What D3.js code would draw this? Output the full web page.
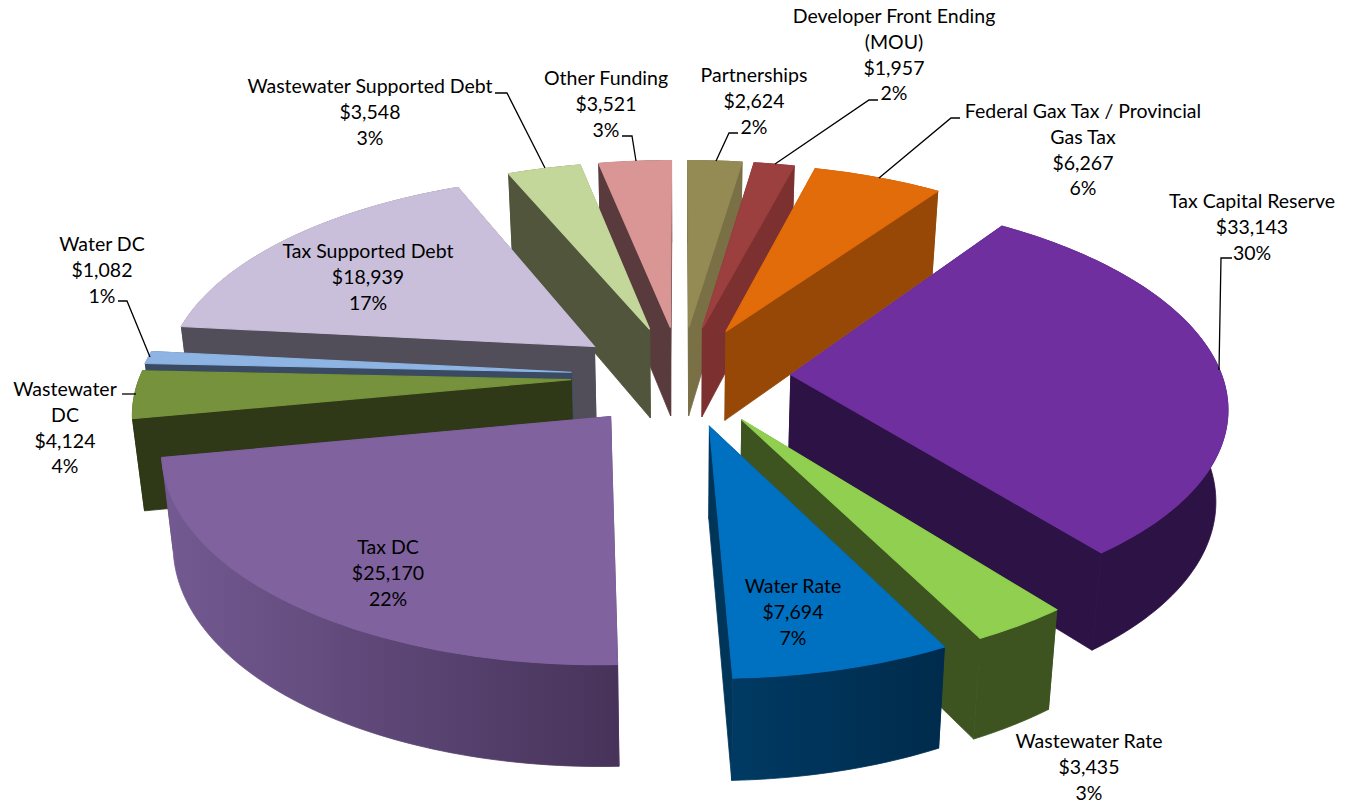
<!DOCTYPE html>
<html>
<head>
<meta charset="utf-8">
<script src="https://cdn.jsdelivr.net/npm/d3@7"></script>
<style>
  html, body { margin: 0; padding: 0; background: #fff; }
  text { font-family: Lato, "Open Sans", sans-serif; font-size: 19.5px; fill: #000; text-anchor: middle; }
</style>
</head>
<body>
<div id="chart"></div>
<script>
// Values, clockwise from the first slice
const categories = ['Tax Capital Reserve', 'Wastewater Rate', 'Water Rate', 'Tax DC', 'Wastewater DC', 'Water DC',
  'Tax Supported Debt', 'Wastewater Supported Debt', 'Other Funding', 'Partnerships', 'Developer Front Ending (MOU)',
  'Federal Gax Tax / Provincial Gas Tax'];
const values = [33143, 3435, 7694, 25170, 4124, 1082, 18939, 3548, 3521, 2624, 1957, 6267];
const percents = [30, 3, 7, 22, 4, 1, 17, 3, 3, 2, 2, 6];

// Styling per slice
const topColors = ['#6f2f9f', '#90cf4f', '#0070c0', '#7f629e', '#76923c', '#8db4e2', '#c9bfda', '#c4d79b', '#da9694', '#948a54', '#9b3f3f', '#e26b0a'];
const wallColors = ['#2c1245', '#3d5421', '#00355a', '#5e4878', '#2f3917', '#3a4a62', '#514e5a', '#50553c', '#5a3b3d', '#7a7046', '#7c3030', '#974706'];
const wallGradients = {
  'Water Rate': ['#003a63', '#002b4c'],
  'Tax DC': ['#735a92', '#47335a']
};

// Label layout: wrapped lines, centre x, centre y of the first line
const labelLines = [['Tax Capital Reserve'], ['Wastewater Rate'], ['Water Rate'], ['Tax DC'], ['Wastewater', 'DC'], ['Water DC'],
  ['Tax Supported Debt'], ['Wastewater Supported Debt'], ['Other Funding'], ['Partnerships'], ['Developer Front Ending', '(MOU)'],
  ['Federal Gax Tax / Provincial', 'Gas Tax']];
const labelX = [1252, 1089, 793, 388, 65, 102, 368, 370, 606, 754, 894, 1083];
const labelY = [201, 741, 586, 547, 389, 244, 251, 86, 78, 75, 16, 111];
const lineStep = 25.8;

const leaders = [
  [[1232, 258], [1221, 258], [1219, 370]],
  [[122, 394], [136, 394]],
  [[118, 301], [127, 301], [150, 357]],
  [[495, 93], [507, 93], [545, 168]],
  [[622, 136], [632, 136], [636, 161]],
  [[738, 133], [729, 133], [716, 161]],
  [[878, 100], [869, 100], [775, 164]],
  [[960, 118], [951, 118], [879, 178]]
];

const width = 1349, height = 803;

// Projection of the tilted pie
const cx = 681, cy = 376;
const radiusX = 431, radiusY = 440, explode = 110;
const tilt = 0.459, persp = 0.000311;
const depth = 90.5, shrink = 0.978;
const firstAngle = 35 * Math.PI / 180;

function project(x, y, bottom) {
  const s = 1 / (1 - persp * y);
  if (!bottom) return [cx + x * s, cy + y * tilt * s];
  return [cx + x * s * shrink, cy + y * tilt * s * shrink + depth * s];
}

const svg = d3.select('#chart').append('svg')
  .attr('width', width)
  .attr('height', height);
const defs = svg.append('defs');
const line = d3.line();

const pie = d3.pie().sort(null).startAngle(firstAngle).endAngle(firstAngle + 2 * Math.PI);
const slices = pie(values).map((d, i) => {
  const mid = (d.startAngle + d.endAngle) / 2;
  const ox = explode * Math.sin(mid), oy = -explode * Math.cos(mid);
  const n = Math.max(4, Math.ceil((d.endAngle - d.startAngle) / 0.02));
  const rim = d3.range(n + 1).map(k => {
    const a = d.startAngle + (d.endAngle - d.startAngle) * k / n;
    return [ox + radiusX * Math.sin(a), oy - radiusY * Math.cos(a)];
  });
  return { name: categories[i], index: i, apex: [ox, oy], rim };
});

// Far slices first so that nearer ones paint over them
slices.sort((a, b) => a.apex[1] - b.apex[1]);

slices.forEach(sl => {
  const g = svg.append('g').attr('class', 'slice');
  const up = p => project(p[0], p[1], false);
  const down = p => project(p[0], p[1], true);
  const first = sl.rim[0], last = sl.rim[sl.rim.length - 1];
  const wall = wallColors[sl.index];

  let outerFill = wall;
  if (wallGradients[sl.name]) {
    const id = 'wall-' + sl.index;
    const xs = sl.rim.map(p => up(p)[0]);
    const grad = defs.append('linearGradient').attr('id', id)
      .attr('gradientUnits', 'userSpaceOnUse')
      .attr('x1', d3.min(xs)).attr('x2', d3.max(xs)).attr('y1', 0).attr('y2', 0);
    grad.append('stop').attr('offset', 0).attr('stop-color', wallGradients[sl.name][0]);
    grad.append('stop').attr('offset', 1).attr('stop-color', wallGradients[sl.name][1]);
    outerFill = `url(#${id})`;
  }

  const faces = [
    { pts: [sl.apex, first], fill: wall },
    { pts: [sl.apex, last], fill: wall },
    { pts: sl.rim, fill: outerFill }
  ].map(f => ({ ...f, meanY: d3.mean(f.pts, p => p[1]) }))
    .sort((a, b) => a.meanY - b.meanY);

  faces.forEach(f => {
    const outline = f.pts.map(up).concat(f.pts.slice().reverse().map(down));
    g.append('path')
      .attr('d', line(outline) + 'Z')
      .attr('fill', f.fill)
      .attr('stroke', f.fill)
      .attr('stroke-width', 0.8);
  });

  // Slightly wider stroke so no wall colour fringes the top face
  g.append('path')
    .attr('d', line([sl.apex].concat(sl.rim).map(up)) + 'Z')
    .attr('fill', topColors[sl.index])
    .attr('stroke', topColors[sl.index])
    .attr('stroke-width', 1.2);
});

// Leader lines
svg.append('g').selectAll('path')
  .data(leaders)
  .join('path')
  .attr('d', d => line(d))
  .attr('fill', 'none')
  .attr('stroke', '#000')
  .attr('stroke-width', 1.3);

// Data labels
const money = d3.format('$,');
categories.forEach((name, i) => {
  const lines = labelLines[i].concat([money(values[i]), percents[i] + '%']);
  const t = svg.append('text');
  lines.forEach((s, k) => {
    t.append('tspan')
      .attr('x', labelX[i])
      .attr('y', labelY[i] + k * lineStep + 7)
      .text(s);
  });
});
</script>
</body>
</html>
